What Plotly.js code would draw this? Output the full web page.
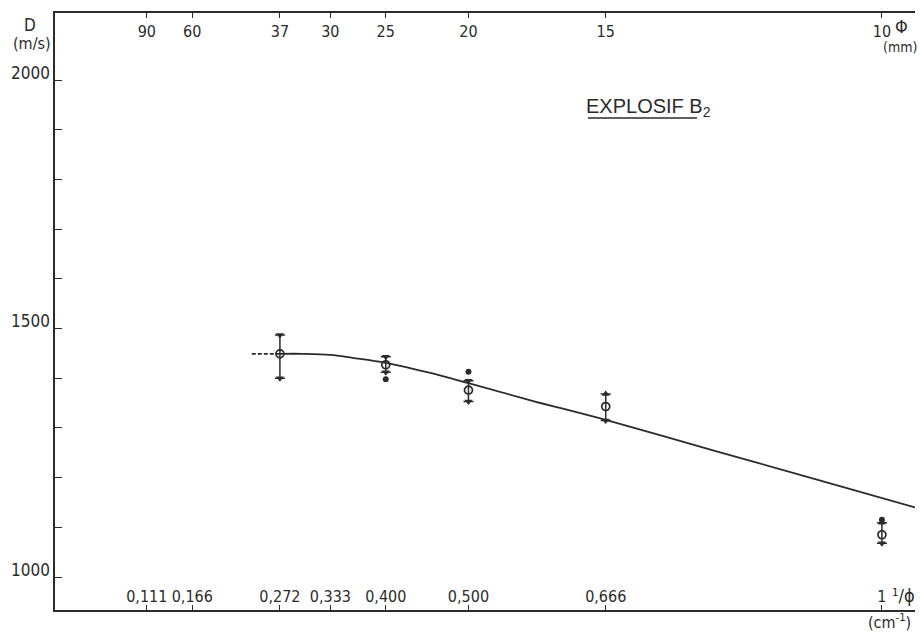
<!DOCTYPE html>
<html>
<head>
<meta charset="utf-8">
<script src="https://cdn.plot.ly/plotly-3.0.1.min.js"></script>
<style>html,body{margin:0;padding:0;background:#fff;}#chart{width:920px;height:632px;}</style>
</head>
<body>
<div id="chart"></div>
<script>
// ---- data ----
const xTickVals = [0.111, 0.166, 0.272, 0.333, 0.400, 0.500, 0.666, 1.000];
const xTickText = ['0,111', '0,166', '0,272', '0,333', '0,400', '0,500', '0,666', '1'];
const topTickText = ['90', '60', '37', '30', '25', '20', '15', '10'];
const yTickVals = [1000, 1100, 1200, 1300, 1400, 1500, 1600, 1700, 1800, 1900, 2000];
const yTickText = ['1000', '', '', '', '', '1500', '', '', '', '', '2000'];

const pointX = [0.272, 0.400, 0.500, 0.666, 1.000];
const pointMean = [1449, 1427, 1376, 1343, 1085];
const pointHigh = [1487, 1443, 1395, 1368, 1109];
const pointLow = [1400, 1412, 1353, 1315, 1068];
const highSymbol = ['triangle-down', 'triangle-down', 'triangle-down', 'triangle-up', 'triangle-up'];

const dotX = [0.400, 0.500, 1.000];
const dotY = [1398, 1413, 1115];

const curveX = [0.272, 0.300, 0.333, 0.360, 0.400, 0.450, 0.500, 0.574, 0.666, 0.800, 0.900, 1.040];
const curveY = [1449, 1449, 1447, 1441, 1431, 1412, 1390, 1356, 1316, 1253, 1206, 1140];

const dashX = [0.238, 0.272];
const dashY = [1449, 1449];

// ---- styling ----
const ink = '#2b2b2b';
const narrow = 'Liberation Sans Narrow, DejaVu Sans Condensed, Arial Narrow, sans-serif';
const W = 920, H = 632, L = 55, R = 5, T = 13, B = 22;
const px = x => (x - L) / (W - L - R);
const py = y => (H - B - y) / (H - T - B);

function note(text, x, y, size, family) {
  return {text: text, x: px(x), y: py(y), xref: 'paper', yref: 'paper', showarrow: false,
          xanchor: 'center', yanchor: 'middle',
          font: {family: family || narrow, size: size, color: ink}};
}

const traces = [
  {x: curveX, y: curveY, mode: 'lines', line: {color: ink, width: 1.8, shape: 'spline'}, hoverinfo: 'skip'},
  {x: dashX, y: dashY, mode: 'lines', line: {color: ink, width: 1.8, dash: '4px,2px'}, hoverinfo: 'skip'},
  {x: pointX, y: pointMean, mode: 'markers',
   error_y: {type: 'data', symmetric: false,
     array: pointHigh.map((h, i) => h - pointMean[i]),
     arrayminus: pointMean.map((m, i) => m - pointLow[i]),
     color: ink, thickness: 1.5, width: 5},
   marker: {symbol: 'circle-open', size: 8, color: ink, line: {width: 1.7, color: ink}}, hoverinfo: 'skip'},
  {x: pointX, y: pointHigh, mode: 'markers', marker: {symbol: highSymbol, size: 7, color: ink}, hoverinfo: 'skip'},
  {x: pointX, y: pointLow, mode: 'markers', marker: {symbol: 'triangle-down', size: 7, color: ink}, hoverinfo: 'skip'},
  {x: dotX, y: dotY, mode: 'markers', marker: {symbol: 'circle', size: 6, color: ink}, hoverinfo: 'skip'},
  {x: xTickVals, y: xTickVals.map(() => null), xaxis: 'x2', mode: 'markers', hoverinfo: 'skip', showlegend: false}
];

const layout = {
  width: W, height: H,
  margin: {l: L, r: R, t: T, b: B},
  paper_bgcolor: '#ffffff', plot_bgcolor: '#ffffff',
  showlegend: false,
  font: {family: narrow, color: ink, size: 16},
  xaxis: {
    range: [0, 1.04], showgrid: false, zeroline: false,
    showline: true, linecolor: ink, linewidth: 1.6,
    ticks: 'inside', ticklen: 5, tickwidth: 1, tickcolor: ink,
    tickvals: xTickVals, ticktext: xTickText, tickangle: 0,
    ticklabelposition: 'inside', tickfont: {family: narrow, size: 16, color: ink}
  },
  xaxis2: {
    overlaying: 'x', side: 'top', matches: 'x', range: [0, 1.04],
    showgrid: false, zeroline: false,
    showline: true, linecolor: ink, linewidth: 1.6,
    ticks: 'inside', ticklen: 5, tickwidth: 1, tickcolor: ink,
    tickvals: xTickVals, ticktext: topTickText, tickangle: 0, ticklabelstandoff: 8,
    ticklabelposition: 'inside', tickfont: {family: narrow, size: 16, color: ink}
  },
  yaxis: {
    range: [933.6, 2134.8], showgrid: false, zeroline: false,
    showline: true, linecolor: ink, linewidth: 1.6,
    ticks: 'inside', ticklen: 7, tickwidth: 1, tickcolor: ink,
    tickvals: yTickVals, ticktext: yTickText, ticklabelshift: -7,
    tickfont: {family: narrow, size: 17, color: ink}
  },
  annotations: [
    note('D', 30, 25, 17),
    note('(m/s)', 32, 43, 16),
    note('Φ', 901, 27, 18),
    note('(mm)', 900, 47, 14),
    note('¹/ϕ', 903, 595, 18),
    note('(cm<sup>-1</sup>)', 889, 621, 16),
    note('EXPLOSIF B<sub>2</sub>', 648, 107, 20, 'Liberation Sans, Arial, sans-serif')
  ],
  shapes: [
    {type: 'line', xref: 'paper', yref: 'paper', x0: px(588), x1: px(697), y0: py(118), y1: py(118),
     line: {color: ink, width: 1.4}}
  ]
};

Plotly.newPlot('chart', traces, layout, {displayModeBar: false, staticPlot: true});
</script>
</body>
</html>
